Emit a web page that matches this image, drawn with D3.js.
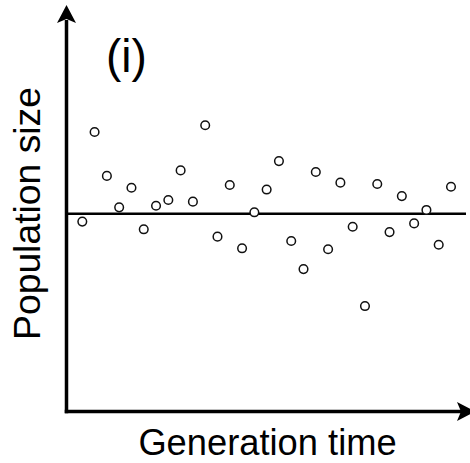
<!DOCTYPE html>
<html><head><meta charset="utf-8">
<script src="https://cdn.jsdelivr.net/npm/d3@7"></script>
<style>html,body{margin:0;padding:0;background:#fff;}svg{display:block;}</style>
</head><body>
<script>
const generations = d3.range(1, 32);
const population = [96.0, 141.3, 119.1, 103.2, 113.1, 92.1, 104.0, 106.9, 121.9, 106.1,
  144.7, 88.4, 114.5, 82.5, 100.7, 112.2, 126.6, 86.2, 72.0, 121.1,
  82.0, 115.7, 93.4, 53.3, 115.0, 90.7, 108.9, 95.1, 101.9, 84.3, 113.6];
const meanValue = [100];
const xLabel = "Generation time";
const yLabel = "Population size";
const panelLabel = "(i)";

const W = 470, H = 463;
const svg = d3.select("body").append("svg").attr("width", W).attr("height", H);
const x = d3.scaleLinear().domain([1, 31]).range([82.3, 451]);
const y = d3.scaleLinear().domain([0, 205]).range([411.5, 6]);
const ax0 = 66.5, ay0 = y(0);

// axes
svg.append("line").attr("x1", ax0).attr("x2", ax0).attr("y1", ay0 + 1.75).attr("y2", 20)
  .attr("stroke", "#000").attr("stroke-width", 3.5);
svg.append("line").attr("x1", ax0 - 1.75).attr("x2", 462).attr("y1", ay0).attr("y2", ay0)
  .attr("stroke", "#000").attr("stroke-width", 3.5);
// arrowheads
svg.append("path").attr("d", `M${ax0},5 L${ax0 + 9.5},23 L${ax0},19 L${ax0 - 9.5},23 Z`).attr("fill", "#000");
svg.append("path").attr("d", `M475,${ay0} L457,${ay0 - 9.5} L461,${ay0} L457,${ay0 + 9.5} Z`).attr("fill", "#000");

// mean line
svg.selectAll(".mean").data(meanValue).enter().append("line")
  .attr("x1", ax0).attr("x2", 466).attr("y1", d => y(d)).attr("y2", d => y(d))
  .attr("stroke", "#000").attr("stroke-width", 2.6);

// points
svg.selectAll(".pt").data(population).enter().append("circle")
  .attr("cx", (d, i) => x(generations[i])).attr("cy", d => y(d)).attr("r", 4.3)
  .attr("fill", "#fff").attr("stroke", "#111").attr("stroke-width", 1.5);

// labels
svg.append("text").attr("x", 267.5).attr("y", 455).attr("text-anchor", "middle")
  .attr("font-family", "Liberation Sans, Arial, sans-serif").attr("font-size", 36.3).text(xLabel);
svg.append("text").attr("transform", "translate(40,213.5) rotate(-90)").attr("text-anchor", "middle")
  .attr("font-family", "Liberation Sans, Arial, sans-serif").attr("font-size", 37.3).text(yLabel);
svg.append("text").attr("x", 106).attr("y", 72).attr("font-family", "Liberation Sans, Arial, sans-serif")
  .attr("font-size", 46).text(panelLabel);
</script>
</body></html>
